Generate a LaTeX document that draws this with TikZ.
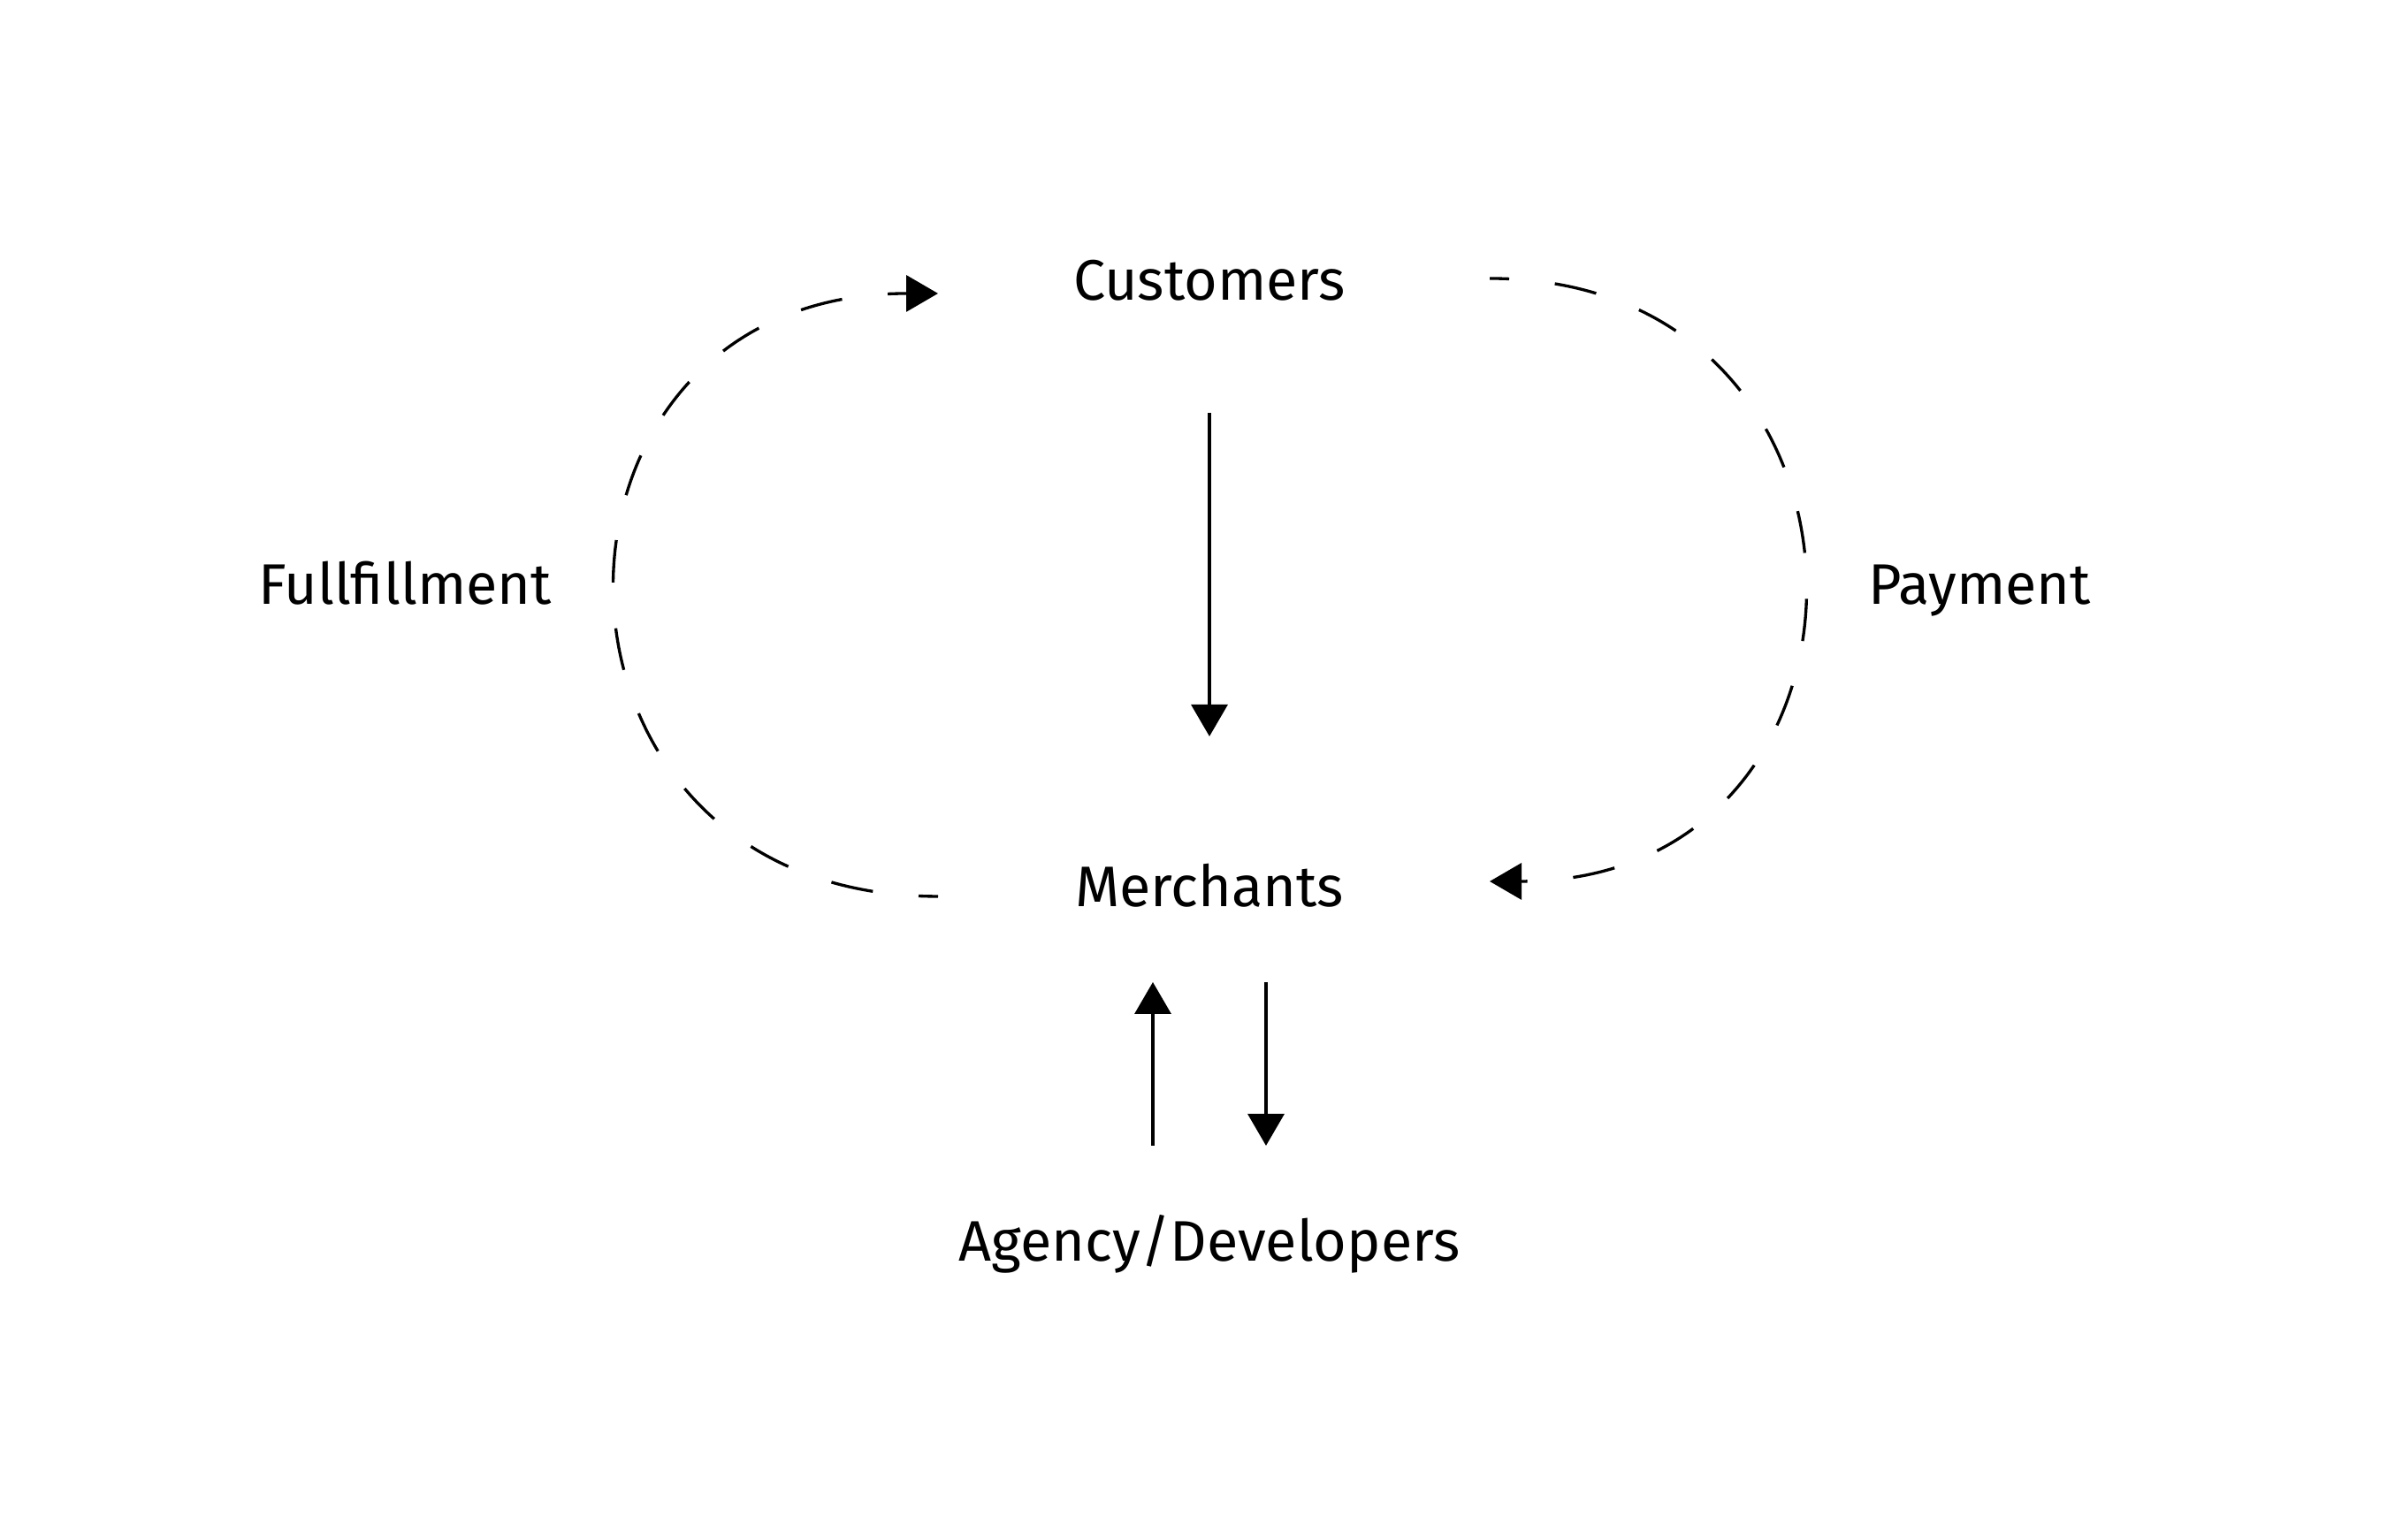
\documentclass[tikz,border=0pt]{standalone}
\usepackage{fontspec}
\setmainfont{Fira Sans}
\usetikzlibrary{arrows.meta}

\begin{document}
\begin{tikzpicture}[
    lbl/.style={inner sep=2pt, text height=0.72em, text depth=0.22em, font=\fontsize{18.4}{22}\selectfont},
    arr/.style={line width=0.95pt, -{Triangle[length=3.6mm, width=4.1mm]}},
    dasharr/.style={arr, dash pattern=on 0.48cm off 0.52cm, dash phase=0.26cm}
]
\useasboundingbox (0, 0) rectangle (27.09, 17.42);

\node[lbl] (cust) at (13.68, 14.11) {Customers};
\node[lbl] (merch) at (13.68, 7.25) {Merchants};
\node[lbl] (fulfil) at (4.58, 10.67) {Fullfillment};
\node[lbl] (pay) at (22.39, 10.67) {Payment};
\node[lbl] (agency) at (13.68, 3.24) {Agency/Developers};

% customers pay merchants
\draw[arr, shorten <=1.36cm, shorten >=1.84cm] (cust.center) -- (merch.center);
\draw[arr, shorten <=1.22cm, shorten >=0.94cm] ([xshift=-6.4mm]agency.center) -- ([xshift=-6.4mm]merch.center);
\draw[arr, shorten <=0.94cm, shorten >=1.22cm] ([xshift=6.4mm]merch.center) -- ([xshift=6.4mm]agency.center);

% loops round the sides
\draw[dasharr] ([xshift=-3.07cm, yshift=0.3mm]merch.center)
    .. controls +(-4.84, 0) and +(-4.84, 0) .. ([xshift=-3.07cm, yshift=-0.1mm]cust.center);
\draw[dasharr] ([xshift=3.17cm, yshift=1.6mm]cust.center)
    .. controls +(4.72, 0) and +(4.72, 0) .. ([xshift=3.17cm, yshift=2.0mm]merch.center);
\end{tikzpicture}
\end{document}
